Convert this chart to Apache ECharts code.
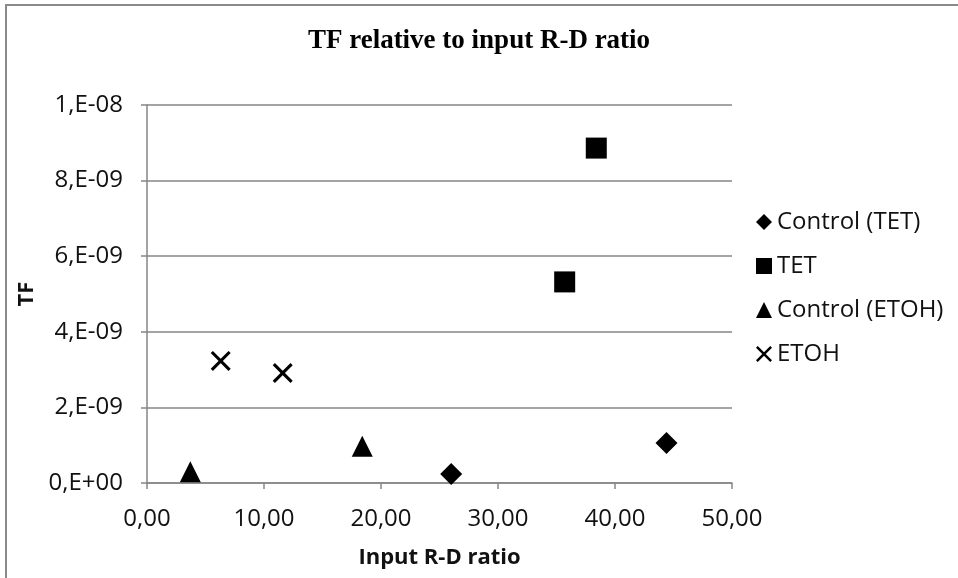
<!DOCTYPE html>
<html>
<head>
<meta charset="utf-8">
<script src="https://cdn.jsdelivr.net/npm/echarts@6/dist/echarts.min.js"></script>
<style>html,body{margin:0;padding:0;background:#fff}#c{width:958px;height:578px}</style>
</head>
<body>
<div id="c"></div>
<script>
const seriesNames = ['Control (TET)', 'TET', 'Control (ETOH)', 'ETOH'];
const controlTET = [[26.0, 0.24e-9], [44.4, 1.06e-9]];
const tet = [[35.7, 5.32e-9], [38.4, 8.86e-9]];
const controlETOH = [[3.7, 0.30e-9], [18.4, 0.97e-9]];
const etoh = [[6.3, 3.23e-9], [11.6, 2.91e-9]];
const yTickLabels = ['0,E+00', '2,E-09', '4,E-09', '6,E-09', '8,E-09', '1,E-08'];
const xTickLabels = ['0,00', '10,00', '20,00', '30,00', '40,00', '50,00'];

const crossPath = 'path://M0,1.1L1.1,0L10,8.9L8.9,10Z M8.9,0L10,1.1L1.1,10L0,8.9Z';
const font = '"Open Sans", sans-serif';
const txt = '#111';
const chart = echarts.init(document.getElementById('c'));
const mk = (name, data, symbol, size) => ({
  name, type: 'scatter', data, symbol, symbolSize: size,
  itemStyle: { color: '#000', opacity: 1 },
  emphasis: { disabled: true }
});
chart.setOption({
  animation: false,
  backgroundColor: '#fff',
  graphic: [{
    type: 'rect', shape: { x: 6, y: 5, width: 1000, height: 1000 },
    style: { fill: 'none', stroke: '#8a8a8a', lineWidth: 2 }, silent: true
  }],
  title: {
    text: 'TF relative to input R-D ratio', left: 'center', top: 23,
    textStyle: { fontFamily: '"Liberation Serif", serif', fontWeight: 'bold', fontSize: 27, color: '#000' }
  },
  grid: { left: 147, right: 226, top: 105, bottom: 95 },
  legend: {
    orient: 'vertical', left: 756, top: 210, itemGap: 20, padding: 0,
    itemWidth: 16, itemHeight: 16, data: seriesNames,
    textStyle: { fontFamily: font, fontSize: 24, color: txt }
  },
  xAxis: {
    type: 'value', min: 0, max: 50, interval: 10,
    name: 'Input R-D ratio', nameLocation: 'middle', nameGap: 64,
    nameTextStyle: { fontFamily: font, fontWeight: 'bold', fontSize: 22, color: txt },
    axisLine: { lineStyle: { color: '#868686', width: 1.5 } },
    axisTick: { show: true, length: 6, lineStyle: { color: '#868686', width: 1.5 } },
    axisLabel: { fontFamily: font, fontSize: 24, color: txt, margin: 24,
      formatter: v => xTickLabels[Math.round(v / 10)] },
    splitLine: { show: false }
  },
  yAxis: {
    type: 'value', min: 0, max: 1e-8, interval: 2e-9,
    name: 'TF', nameLocation: 'middle', nameGap: 108, nameRotate: 90,
    nameTextStyle: { fontFamily: font, fontWeight: 'bold', fontSize: 22, color: txt },
    axisLine: { show: true, lineStyle: { color: '#868686', width: 1.5 } },
    axisTick: { show: true, length: 6, lineStyle: { color: '#868686', width: 1.5 } },
    axisLabel: { fontFamily: font, fontSize: 24, color: txt, margin: 24,
      formatter: v => yTickLabels[Math.round(v / 2e-9)] },
    splitLine: { show: true, lineStyle: { color: '#868686', width: 1.5 } }
  },
  series: [
    mk(seriesNames[0], controlTET, 'diamond', [22, 22]),
    mk(seriesNames[1], tet, 'rect', [21, 21]),
    mk(seriesNames[2], controlETOH, 'triangle', [21, 21]),
    mk(seriesNames[3], etoh, crossPath, [20, 20])
  ]
});
</script>
</body>
</html>
